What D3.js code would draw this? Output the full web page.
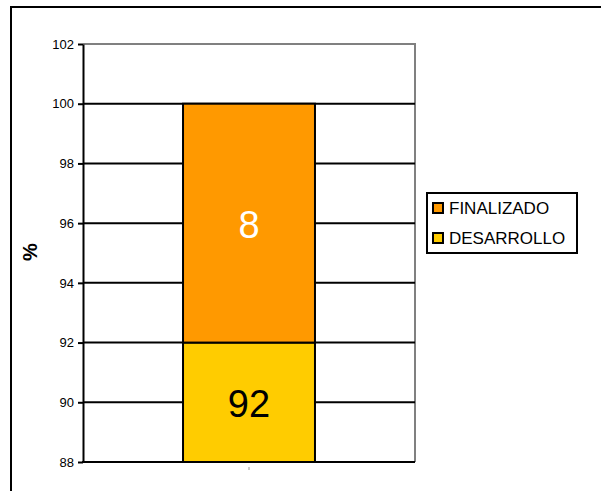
<!DOCTYPE html>
<html>
<head>
<meta charset="utf-8">
<script src="https://cdn.jsdelivr.net/npm/d3@7"></script>
<style>
  body { margin: 0; background: #fff; }
  text { font-family: "Liberation Sans", Arial, sans-serif; }
</style>
</head>
<body>
<svg id="chart" width="601" height="491"></svg>
<script>
// data
var categories = ["A"];
var seriesNames = ["DESARROLLO", "FINALIZADO"];
var desarrollo = [92];
var finalizado = [8];
var yTicks = [88, 90, 92, 94, 96, 98, 100, 102];
var seriesColors = ["#FFCC00", "#FF9900"];
var labelColors = ["#000000", "#ffffff"];

var svg = d3.select("#chart");

// outer frame (only top and left edges fall inside the picture)
svg.append("path")
    .attr("d", "M11,491V7H601")
    .attr("fill", "none")
    .attr("stroke", "#000")
    .attr("stroke-width", 2);

var plotLeft = 83, plotRight = 415, plotTop = 44, plotBottom = 462;

var yScale = d3.scaleLinear()
    .domain([88, 102])
    .range([plotBottom, plotTop]);

var xScale = d3.scaleBand()
    .domain(categories)
    .range([plotLeft, plotRight])
    .paddingInner(0)
    .paddingOuter(0.758);

// plot area right/top border in gray
svg.append("path")
    .attr("d", "M" + plotLeft + "," + plotTop + "H" + plotRight + "V" + plotBottom)
    .attr("fill", "none")
    .attr("stroke", "#808080")
    .attr("stroke-width", 2);

// gridlines
svg.append("g")
  .selectAll("line")
  .data(yTicks.filter(d => d > 88 && d < 102))
  .enter()
  .append("line")
    .attr("x1", plotLeft).attr("x2", plotRight)
    .attr("y1", d => yScale(d)).attr("y2", d => yScale(d))
    .attr("stroke", "#000")
    .attr("stroke-width", 2);

// stacked data
var table = categories.map((c, i) => ({cat: c, DESARROLLO: desarrollo[i], FINALIZADO: finalizado[i]}));
var stack = d3.stack().keys(seriesNames)(table);

var bars = svg.append("g");
stack.forEach(function(layer, li) {
  bars.selectAll(null)
    .data(layer)
    .enter()
    .append("rect")
      .attr("x", d => xScale(d.data.cat))
      .attr("width", xScale.bandwidth())
      .attr("y", d => yScale(Math.min(d[1], 102)))
      .attr("height", d => yScale(Math.max(d[0], 88)) - yScale(Math.min(d[1], 102)))
      .attr("fill", seriesColors[li])
      .attr("stroke", "#000")
      .attr("stroke-width", 2);

  bars.selectAll(null)
    .data(layer)
    .enter()
    .append("text")
      .attr("x", d => xScale(d.data.cat) + xScale.bandwidth() / 2)
      .attr("y", d => (yScale(Math.max(d[0], 88)) + yScale(Math.min(d[1], 102))) / 2)
      .attr("dy", "0.38em")
      .attr("text-anchor", "middle")
      .attr("font-size", "38px")
      .attr("fill", labelColors[li])
      .text(d => d[1] - d[0]);
});

// y axis
var yAxis = d3.axisLeft(yScale)
    .tickValues(yTicks)
    .tickSize(5)
    .tickPadding(4)
    .tickSizeOuter(0);

var gy = svg.append("g")
    .attr("transform", "translate(" + plotLeft + ",0)")
    .call(yAxis);
gy.select(".domain").attr("stroke", "#000").attr("stroke-width", 2);
gy.selectAll(".tick line").attr("stroke", "#000").attr("stroke-width", 2);
gy.selectAll(".tick text")
    .attr("font-family", "'Liberation Sans', Arial, sans-serif")
    .attr("font-size", "13px")
    .attr("fill", "#000");

// x axis line
svg.append("line")
    .attr("x1", plotLeft - 1).attr("x2", plotRight)
    .attr("y1", plotBottom).attr("y2", plotBottom)
    .attr("stroke", "#000")
    .attr("stroke-width", 2);

// tiny category tick
svg.append("line")
    .attr("x1", xScale(categories[0]) + xScale.bandwidth() / 2)
    .attr("x2", xScale(categories[0]) + xScale.bandwidth() / 2)
    .attr("y1", plotBottom + 5).attr("y2", plotBottom + 8)
    .attr("stroke", "#999")
    .attr("stroke-width", 1);

// y axis title
svg.append("text")
    .attr("transform", "rotate(-90)")
    .attr("x", -252)
    .attr("y", 37)
    .attr("text-anchor", "middle")
    .attr("font-size", "20px")
    .attr("font-weight", "bold")
    .text("%");

// legend
var legend = svg.append("g");
legend.append("rect")
    .attr("x", 427).attr("y", 193)
    .attr("width", 150).attr("height", 60)
    .attr("fill", "#fff")
    .attr("stroke", "#000")
    .attr("stroke-width", 2);

var legendOrder = [1, 0];
legendOrder.forEach(function(si, i) {
  var ly = 208 + i * 30;
  legend.append("rect")
      .attr("x", 433).attr("y", ly - 5)
      .attr("width", 10).attr("height", 10)
      .attr("fill", seriesColors[si])
      .attr("stroke", "#000")
      .attr("stroke-width", 2);
  legend.append("text")
      .attr("x", 449).attr("y", ly)
      .attr("dy", "0.36em")
      .attr("font-size", "17px")
      .text(seriesNames[si]);
});
</script>
</body>
</html>
